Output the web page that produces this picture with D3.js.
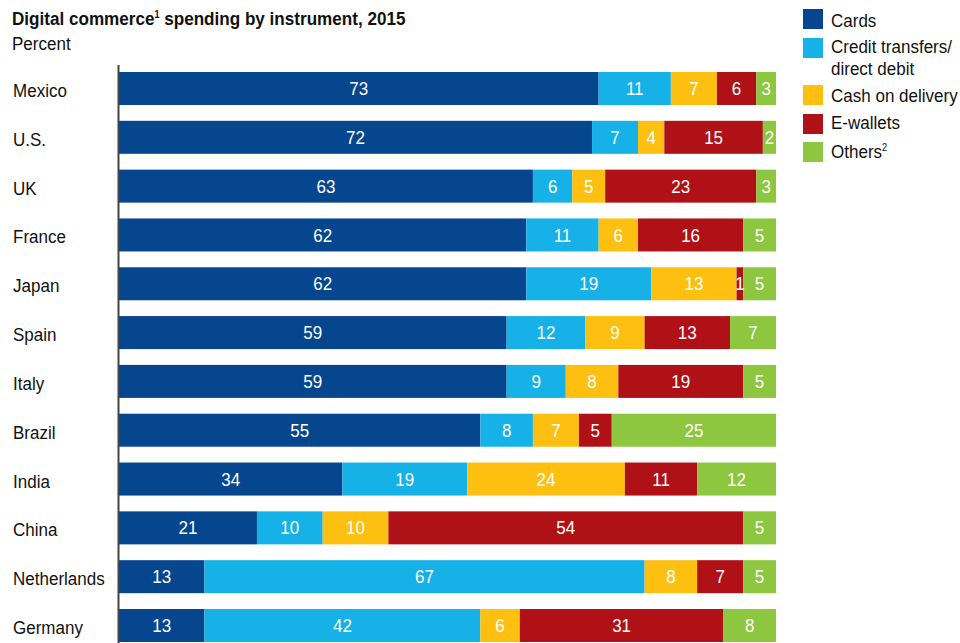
<!DOCTYPE html>
<html>
<head>
<meta charset="utf-8">
<script src="https://cdn.jsdelivr.net/npm/d3@7"></script>
<style>
  html, body { margin: 0; padding: 0; background: #fff; }
  svg { display: block; }
  text { font-family: "Liberation Sans", Arial, sans-serif; }
</style>
</head>
<body>
<svg id="chart" width="960" height="643"></svg>
<script>
// Countries, top to bottom
const countries = ["Mexico", "U.S.", "UK", "France", "Japan", "Spain", "Italy", "Brazil", "India", "China", "Netherlands", "Germany"];

// Payment instruments (stack order, left to right)
const instruments = ["Cards", "Credit transfers/direct debit", "Cash on delivery", "E-wallets", "Others"];

// Share of digital commerce spending, percent
const cards          = [73, 72, 63, 62, 62, 59, 59, 55, 34, 21, 13, 13];
const creditTransfer = [11,  7,  6, 11, 19, 12,  9,  8, 19, 10, 67, 42];
const cashOnDelivery = [ 7,  4,  5,  6, 13,  9,  8,  7, 24, 10,  8,  6];
const eWallets       = [ 6, 15, 23, 16,  1, 13, 19,  5, 11, 54,  7, 31];
const others         = [ 3,  2,  3,  5,  5,  7,  5, 25, 12,  5,  5,  8];

const colors = ["#05468f", "#16b1e6", "#fdc010", "#b01117", "#8dc63f"];

const seriesValues = [cards, creditTransfer, cashOnDelivery, eWallets, others];
const rows = countries.map((c, i) => {
  const r = { country: c };
  instruments.forEach((k, j) => { r[k] = seriesValues[j][i]; });
  return r;
});

// Narrow-face text: a regular sans squeezed horizontally
function ntext(parent, x, y, anchor, sx) {
  return parent.append("text")
    .attr("transform", `translate(${x},${y}) scale(${sx || 0.92},1)`)
    .attr("text-anchor", anchor || "start");
}

const svg = d3.select("#chart");

const x = d3.scaleLinear().domain([0, 100]).range([119, 776]);
const y = d3.scaleBand().domain(countries).range([72, 642]).paddingInner(0.324).paddingOuter(0);
const color = d3.scaleOrdinal().domain(instruments).range(colors);

const stacked = d3.stack().keys(instruments)(rows);

// Title block
ntext(svg, 12, 25, "start", 0.9)
  .attr("font-size", 19).attr("font-weight", "bold").attr("fill", "#111")
  .call(t => {
    t.append("tspan").text("Digital commerce");
    t.append("tspan").attr("font-size", 10).attr("dy", -7).text("1");
    t.append("tspan").attr("dy", 7).text(" spending by instrument, 2015");
  });
ntext(svg, 12, 50)
  .attr("font-size", 18.5).attr("fill", "#111")
  .text("Percent");

// Stacked bars
const layer = svg.append("g").selectAll("g")
  .data(stacked).join("g")
  .attr("fill", d => color(d.key));

layer.selectAll("rect")
  .data(d => d.map(s => ({ s, key: d.key })))
  .join("rect")
  .attr("x", d => x(d.s[0]))
  .attr("y", d => y(d.s.data.country))
  .attr("width", d => x(d.s[1]) - x(d.s[0]))
  .attr("height", y.bandwidth());

// Value labels centred in each segment
const labels = svg.append("g");
stacked.forEach(ser => {
  ser.forEach(s => {
    ntext(labels, (x(s[0]) + x(s[1])) / 2, y(s.data.country) + y.bandwidth() / 2 + 6.6, "middle")
      .attr("font-size", 18.5)
      .attr("fill", "#fff")
      .text(s[1] - s[0]);
  });
});

// Category labels at left
const catG = svg.append("g");
countries.forEach(c => {
  ntext(catG, 13, y(c) + y.bandwidth() / 2 + 8.5)
    .attr("font-size", 18.5)
    .attr("fill", "#111")
    .text(c);
});

// Vertical rule at the base of the bars
svg.append("line")
  .attr("x1", 118.5).attr("x2", 118.5)
  .attr("y1", 65).attr("y2", 643)
  .attr("stroke", "#444").attr("stroke-width", 2);

// Legend
const legendRows = [
  { key: "Cards", lines: ["Cards"], y: 9, base: 26.5 },
  { key: "Credit transfers/direct debit", lines: ["Credit transfers/", "direct debit"], y: 38, base: 52.5 },
  { key: "Cash on delivery", lines: ["Cash on delivery"], y: 85, base: 101.5 },
  { key: "E-wallets", lines: ["E-wallets"], y: 114, base: 129 },
  { key: "Others", lines: ["Others"], sup: "2", y: 142, base: 157.5 }
];
const lg = svg.append("g");
legendRows.forEach(r => {
  lg.append("rect")
    .attr("x", 803).attr("y", r.y)
    .attr("width", 20).attr("height", 20)
    .attr("fill", color(r.key));
  const t = ntext(lg, 831, r.base)
    .attr("font-size", 18.5).attr("fill", "#111");
  r.lines.forEach((ln, i) => {
    t.append("tspan").attr("x", 0).attr("dy", i === 0 ? 0 : 22.5).text(ln);
  });
  if (r.sup) {
    t.append("tspan").attr("font-size", 10).attr("dy", -7).text(r.sup);
  }
});
</script>
</body>
</html>
